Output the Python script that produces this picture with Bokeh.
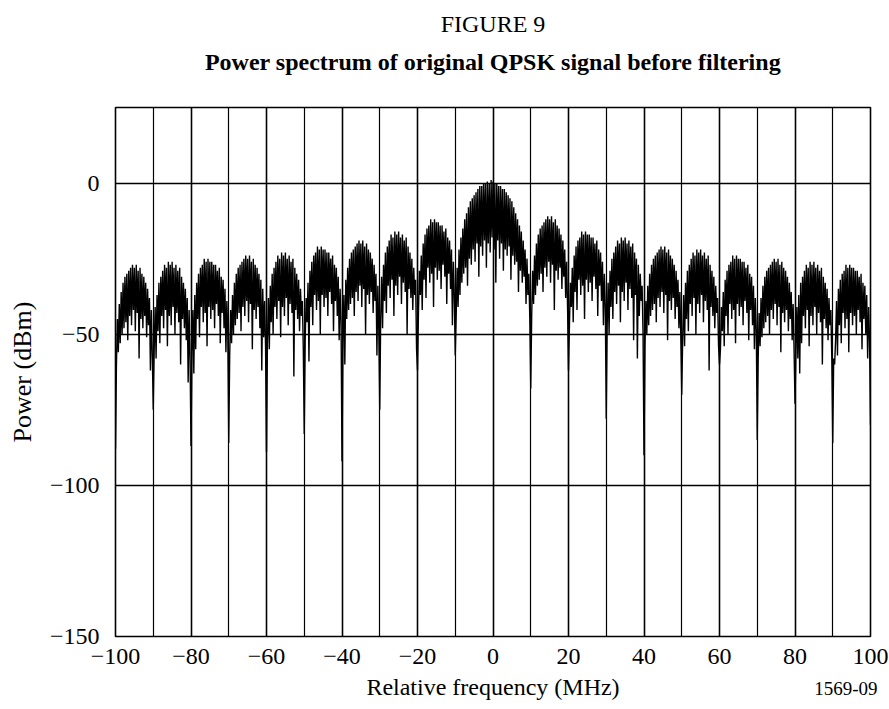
import numpy as np
from bokeh.plotting import figure
from bokeh.models import FixedTicker, Grid, LinearAxis, Title
from bokeh.embed import file_html
from bokeh.resources import INLINE

# ---- data: power (dBm), one sample every 0.25 MHz ----
lobe_m100 = [-88, -60, -45, -56, -40, -53, -36, -50, -33, -48, -31, -46, -30, -52, -29, -44, -28, -47, -27, -42,
             -28, -49, -27, -43, -29, -58, -28, -45, -30, -48, -31, -44, -33, -51, -35, -47, -38, -62, -42, -57]
lobe_m90 = [-75, -55, -41, -58, -37, -49, -33, -53, -31, -44, -29, -48, -27, -42, -28, -54, -26, -44, -27, -47,
            -26, -41, -28, -50, -27, -43, -29, -46, -28, -60, -31, -45, -33, -48, -35, -52, -38, -66, -42, -58]
lobe_m80 = [-87, -56, -42, -63, -37, -55, -33, -45, -30, -51, -28, -41, -27, -46, -25, -43, -26, -54, -25, -41,
            -26, -45, -26, -42, -27, -48, -27, -40, -29, -44, -28, -53, -31, -43, -32, -48, -35, -56, -39, -50]
lobe_m70 = [-86, -57, -42, -53, -37, -50, -33, -47, -30, -45, -28, -43, -27, -49, -26, -41, -25, -44, -24, -39,
            -25, -46, -24, -40, -26, -55, -25, -42, -27, -45, -28, -41, -30, -48, -32, -62, -35, -51, -39, -54]
lobe_m60 = [-89, -52, -38, -55, -34, -46, -30, -50, -28, -41, -26, -45, -24, -39, -25, -51, -23, -41, -24, -44,
            -23, -38, -25, -47, -24, -40, -26, -43, -25, -64, -28, -42, -30, -45, -32, -49, -35, -44, -39, -55]
lobe_m50 = [-83, -52, -38, -46, -33, -59, -29, -41, -26, -47, -24, -37, -23, -42, -21, -39, -22, -50, -21, -37,
            -22, -41, -22, -38, -23, -44, -23, -36, -25, -40, -24, -49, -27, -39, -28, -44, -31, -52, -35, -46]
lobe_m40 = [-92, -52, -37, -60, -32, -45, -28, -42, -25, -40, -23, -38, -22, -44, -21, -36, -20, -39, -19, -34,
            -20, -41, -19, -35, -21, -50, -20, -37, -22, -40, -23, -36, -25, -43, -27, -39, -30, -57, -34, -49]
lobe_m30 = [-75, -45, -31, -48, -27, -39, -23, -43, -21, -34, -19, -38, -17, -32, -18, -44, -16, -34, -17, -37,
            -16, -31, -18, -40, -17, -33, -19, -36, -18, -50, -21, -35, -23, -38, -25, -42, -28, -37, -32, -55]
lobe_m20 = [-62, -43, -29, -37, -24, -42, -20, -32, -17, -38, -15, -28, -14, -33, -12, -30, -13, -41, -12, -28,
            -13, -32, -13, -29, -14, -35, -14, -27, -16, -31, -15, -40, -18, -30, -19, -35, -22, -47, -26, -37]
main_lobe = [-57, -44, -28, -41, -22, -37, -18, -33, -15, -30, -12, -28, -10, -34, -8, -25, -6, -27, -5, -22,
             -4, -26, -3, -20, -2, -31, -1, -21, -1, -24, 0, -19, 0, -28, 0.5, -20, 0, -23, 1, -18,
             0.5, -22, 0, -33, 0, -19, -1, -25, -1, -20, -2, -29, -2, -22, -3, -24, -4, -21, -5, -32,
             -6, -24, -8, -27, -10, -26, -12, -36, -14, -29, -16, -33, -19, -31, -22, -40, -25, -37, -30, -45]
lobe_p10 = [-68, -44, -29, -40, -24, -37, -20, -34, -17, -32, -15, -30, -14, -36, -13, -28, -12, -31, -11, -26,
            -12, -33, -11, -27, -13, -42, -12, -29, -14, -32, -15, -28, -17, -35, -19, -31, -22, -38, -26, -41]
lobe_p20 = [-62, -47, -33, -41, -28, -46, -24, -36, -21, -42, -19, -32, -18, -37, -16, -34, -17, -45, -16, -32,
            -17, -36, -17, -33, -18, -39, -18, -31, -20, -35, -19, -44, -22, -34, -23, -39, -26, -47, -30, -41]
lobe_p30 = [-78, -47, -33, -50, -29, -41, -25, -45, -23, -36, -21, -40, -19, -34, -20, -46, -18, -36, -19, -39,
            -18, -33, -20, -42, -19, -35, -21, -38, -20, -52, -23, -37, -25, -58, -27, -44, -30, -39, -34, -50]
lobe_p40 = [-90, -54, -39, -50, -34, -47, -30, -44, -27, -42, -25, -40, -24, -46, -23, -38, -22, -41, -21, -36,
            -22, -43, -21, -37, -23, -52, -22, -39, -24, -42, -25, -38, -27, -45, -29, -41, -32, -48, -36, -51]
lobe_p50 = [-70, -51, -37, -54, -33, -45, -29, -49, -27, -40, -25, -44, -23, -38, -24, -50, -22, -40, -23, -43,
            -22, -37, -24, -46, -23, -39, -25, -42, -24, -62, -27, -41, -29, -44, -31, -48, -34, -43, -38, -54]
lobe_p60 = [-60, -55, -41, -49, -36, -54, -32, -44, -29, -50, -27, -40, -26, -45, -24, -42, -25, -53, -24, -40,
            -25, -44, -25, -41, -26, -47, -26, -39, -28, -43, -27, -52, -30, -42, -31, -47, -34, -55, -38, -49]
lobe_p70 = [-85, -58, -43, -54, -38, -51, -34, -48, -31, -46, -29, -44, -28, -50, -27, -42, -26, -45, -25, -40,
            -26, -47, -25, -41, -27, -56, -26, -43, -28, -46, -29, -42, -31, -49, -33, -45, -36, -52, -40, -55]
lobe_p80 = [-73, -55, -41, -58, -37, -63, -33, -53, -31, -44, -29, -48, -27, -42, -28, -54, -26, -44, -27, -47,
            -26, -41, -28, -50, -27, -43, -29, -46, -28, -60, -31, -45, -33, -48, -35, -52, -38, -47, -42, -58]
lobe_p90 = [-86, -58, -60, -52, -39, -57, -35, -47, -32, -53, -30, -43, -29, -48, -27, -45, -28, -56, -27, -43,
            -28, -47, -28, -44, -29, -50, -29, -42, -31, -46, -30, -55, -33, -45, -34, -50, -37, -58, -41, -52]
edge_p100 = [-80]

x_ticks = [-100, -80, -60, -40, -20, 0, 20, 40, 60, 80, 100]
x_tick_labels = ["\u2212100", "\u221280", "\u221260", "\u221240", "\u221220", "0", "20", "40", "60", "80", "100"]
y_ticks = [0, -50, -100, -150]
y_tick_labels = ["0", "\u221250", "\u2212100", "\u2212150"]
major_grid_x = [-80, -60, -40, -20, 0, 20, 40, 60, 80]
minor_grid_x = [-90, -70, -50, -30, -10, 10, 30, 50, 70, 90]
grid_y = [0, -50, -100]

figure_no = "FIGURE 9"
title_text = "Power spectrum of original QPSK signal before filtering"
x_title = "Relative frequency (MHz)"
y_title = "Power (dBm)"
doc_ref = "1569-09"
doc_ref_pos = [93.5]

power = (lobe_m100 + lobe_m90 + lobe_m80 + lobe_m70 + lobe_m60 + lobe_m50 + lobe_m40
         + lobe_m30 + lobe_m20 + main_lobe + lobe_p10 + lobe_p20 + lobe_p30 + lobe_p40
         + lobe_p50 + lobe_p60 + lobe_p70 + lobe_p80 + lobe_p90 + edge_p100)
freq = np.linspace(-100, 100, len(power))

FONT = "Liberation Serif"

p = figure(frame_width=755, frame_height=529,
           x_range=(-100, 100), y_range=(-150, 25),
           output_backend="svg", toolbar_location=None,
           min_border_left=115, min_border_right=19,
           min_border_top=107, min_border_bottom=73,
           background_fill_color="white", border_fill_color="white")
p.title.visible = False
p.outline_line_color = "black"
p.outline_line_width = 1.6

# grids
p.xgrid.ticker = FixedTicker(ticks=major_grid_x)
p.xgrid.grid_line_color = "black"
p.xgrid.grid_line_width = 1.6
p.add_layout(Grid(dimension=0, ticker=FixedTicker(ticks=minor_grid_x),
                  grid_line_color="black", grid_line_width=1.2))
p.ygrid.ticker = FixedTicker(ticks=grid_y)
p.ygrid.grid_line_color = "black"
p.ygrid.grid_line_width = 1.6

# trace
p.line(freq, power, line_color="black", line_width=1.4)

# axes
for ax in (p.xaxis[0], p.yaxis[0]):
    ax.axis_line_color = None
    ax.major_tick_line_color = None
    ax.minor_tick_line_color = None
    ax.major_tick_out = 0
    ax.major_tick_in = 0
    ax.major_label_text_font = FONT
    ax.major_label_text_font_size = "24px"
    ax.major_label_text_color = "black"
    ax.axis_label_text_font = FONT
    ax.axis_label_text_font_style = "normal"
    ax.axis_label_text_color = "black"

p.xaxis.ticker = FixedTicker(ticks=x_ticks)
p.xaxis.major_label_overrides = dict(zip(x_ticks, x_tick_labels))
p.xaxis.major_label_standoff = 12
p.xaxis.axis_label = x_title
p.xaxis.axis_label_text_font_size = "24px"
p.xaxis.axis_label_standoff = 7

p.yaxis.ticker = FixedTicker(ticks=y_ticks)
p.yaxis.major_label_overrides = dict(zip(y_ticks, y_tick_labels))
p.yaxis.major_label_standoff = 16
p.yaxis.axis_label = y_title
p.yaxis.axis_label_text_font_size = "26px"
p.yaxis.axis_label_standoff = 10

# bold heading: label of an empty axis above the frame
head_axis = LinearAxis(ticker=FixedTicker(ticks=[]), axis_label=title_text,
                       axis_line_color=None, major_tick_line_color=None,
                       minor_tick_line_color=None, major_tick_out=0, major_tick_in=0,
                       major_label_standoff=0, axis_label_standoff=33,
                       axis_label_text_font=FONT, axis_label_text_font_size="24px",
                       axis_label_text_font_style="bold", axis_label_text_color="black")
p.add_layout(head_axis, "above")

# figure number above it
p.add_layout(Title(text=figure_no, align="center", vertical_align="bottom", standoff=17,
                   text_font=FONT, text_font_size="24px", text_font_style="normal",
                   text_color="black"), "above")

# document reference, in the row of the x-axis title
ref_axis = LinearAxis(ticker=FixedTicker(ticks=doc_ref_pos),
                      major_label_overrides=dict(zip(doc_ref_pos, [doc_ref])),
                      axis_line_color=None, major_tick_line_color=None,
                      minor_tick_line_color=None, major_tick_out=0, major_tick_in=0,
                      major_label_standoff=-21, major_label_text_font=FONT,
                      major_label_text_font_size="19px", major_label_text_color="black")
if "major_label_background_fill_color" in ref_axis.properties():
    ref_axis.major_label_background_fill_color = "#e6e6e6"
p.add_layout(ref_axis, "below")

open("out.html", "w").write(file_html(p, INLINE))
